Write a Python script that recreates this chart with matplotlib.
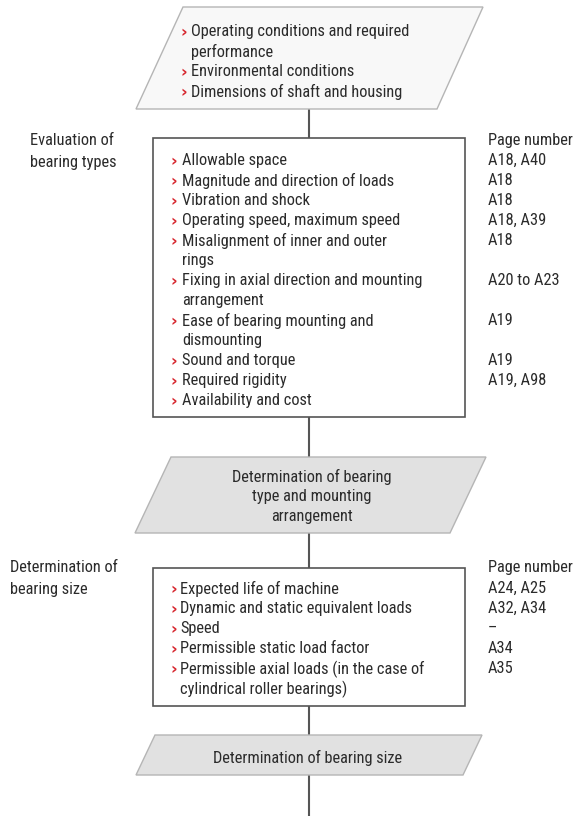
import matplotlib
matplotlib.use("Agg")
import matplotlib.pyplot as plt
from matplotlib.patches import Polygon, Rectangle
from matplotlib import font_manager
from matplotlib.font_manager import FontProperties

# ------------------------------
# content
# ------------------------------
input_items = ["Operating conditions and required\nperformance",
               "Environmental conditions",
               "Dimensions of shaft and housing"]

type_label = "Evaluation of\nbearing types"
type_items = ["Allowable space",
              "Magnitude and direction of loads",
              "Vibration and shock",
              "Operating speed, maximum speed",
              "Misalignment of inner and outer\nrings",
              "Fixing in axial direction and mounting\narrangement",
              "Ease of bearing mounting and\ndismounting",
              "Sound and torque",
              "Required rigidity",
              "Availability and cost"]
type_pages = ["A18, A40", "A18", "A18", "A18, A39", "A18",
              "A20 to A23", "A19", "A19", "A19, A98", ""]
type_result = "Determination of bearing\ntype and mounting\narrangement"

size_label = "Determination of\nbearing size"
size_items = ["Expected life of machine",
              "Dynamic and static equivalent loads",
              "Speed",
              "Permissible static load factor",
              "Permissible axial loads (in the case of\ncylindrical roller bearings)"]
size_pages = ["A24, A25", "A32, A34", "–", "A34", "A35"]
size_result = "Determination of bearing size"

page_header = "Page number"

# ------------------------------
# font: look for a narrow / condensed sans
# ------------------------------
cands = []
for f in font_manager.fontManager.ttflist:
    low = (f.fname + " " + f.name).lower()
    if ("narrow" in low or "condensed" in low or str(f.stretch) in ("condensed", "semi-condensed")) \
            and f.style == "normal" and f.weight in (400, "normal", "regular") \
            and "mono" not in low and "serif" not in low.replace("sans", ""):
        if "semi" in low or "extra" in low or "ultra" in low:
            continue
        cands.append(f)
cands.sort(key=lambda f: (0 if "liberation" in f.fname.lower() else
                          1 if "roboto" in f.fname.lower() else
                          2 if "noto" in f.fname.lower() else 3))
if cands:
    FP = FontProperties(fname=cands[0].fname)
else:
    FP = FontProperties(family="DejaVu Sans")

TXT = "#2b2b2b"
RED = "#d7262e"
LH = 20  # line height in px

fig = plt.figure(figsize=(5.74, 8.16), dpi=100)
ax = fig.add_axes([0, 0, 1, 1])
ax.set_xlim(0, 574)
ax.set_ylim(816, 0)
ax.axis("off")

# calibrate font size to the reference width of "Allowable space" (~105 px)
r = fig.canvas.get_renderer()
probe = ax.text(0, 0, "Allowable space", fontproperties=FP, fontsize=10)
w10 = probe.get_window_extent(r).width
probe.remove()
FS = 10 * 105.0 / w10
FP.set_size(FS)
BP = FontProperties(family="DejaVu Sans", weight="bold", size=FS)

# connector line
ax.plot([309, 309], [109, 816], color="#555555", lw=1.5, zorder=1)


def txt(x, y, s, **kw):
    kw.setdefault("color", TXT)
    kw.setdefault("va", "center_baseline")
    kw.setdefault("ha", "left")
    ax.text(x, y, s, fontproperties=FP, zorder=3, **kw)


def para(top, bottom, x_tl, x_tr, x_bl, x_br, face, edge):
    ax.add_patch(Polygon([(x_tl, top), (x_tr, top), (x_br, bottom), (x_bl, bottom)],
                         closed=True, facecolor=face, edgecolor=edge, lw=1.0, zorder=2))


def bullets(items, x_bul, x_txt, y0, pages=None, x_page=None):
    y = y0
    for i, it in enumerate(items):
        ax.text(x_bul, y + 1, "›", color=RED, fontproperties=BP,
                va="center_baseline", ha="left", zorder=3)
        if pages is not None and pages[i]:
            txt(x_page, y, pages[i])
        for ln in it.split("\n"):
            txt(x_txt, y, ln)
            y += LH


# top input parallelogram
para(7, 109, 183, 483, 136, 437, "#f8f8f8", "#b5b5b5")
bullets(input_items, 181, 191, 30)

# bearing type evaluation
ax.add_patch(Rectangle((153, 138), 312, 279, facecolor="white",
                       edgecolor="#555555", lw=1.2, zorder=2))
for k, ln in enumerate(type_label.split("\n")):
    txt(30, 139 + k * 22, ln)
txt(488, 139, page_header)
bullets(type_items, 171, 182, 159, type_pages, 488)

para(457, 533, 171, 486, 135, 450, "#e1e1e1", "#b5b5b5")
for k, ln in enumerate(type_result.split("\n")):
    txt(312, 475 + k * LH, ln, ha="center")

# bearing size determination
ax.add_patch(Rectangle((153, 568), 312, 138, facecolor="white",
                       edgecolor="#555555", lw=1.2, zorder=2))
for k, ln in enumerate(size_label.split("\n")):
    txt(10, 566 + k * 22, ln)
txt(488, 566, page_header)
bullets(size_items, 170, 180, 587, size_pages, 488)

para(735, 775, 155, 482, 136, 463, "#e1e1e1", "#b5b5b5")
txt(308, 756, size_result, ha="center")

fig.savefig("out.png", dpi=100, facecolor="white")
